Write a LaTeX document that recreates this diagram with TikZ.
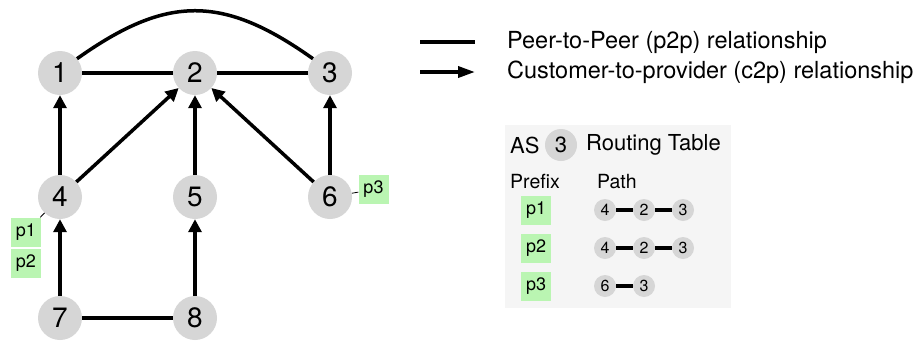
\documentclass[tikz,border=0pt]{standalone}
\usepackage{fontspec}
\setmainfont{TeX Gyre Heros}
\usetikzlibrary{arrows.meta}
\definecolor{asgray}{RGB}{214,214,214}
\definecolor{pfxgreen}{RGB}{186,245,178}
\definecolor{panelgray}{RGB}{245,245,245}
\newcommand{\fs}[1]{\fontsize{#1}{#1}\selectfont}
\tikzset{
  asnode/.style={circle, fill=asgray, minimum size=44pt, inner sep=0pt, font=\fs{28}},
  mini/.style={circle, fill=asgray, minimum size=22pt, inner sep=0pt, font=\fs{16}},
  pfx/.style={fill=pfxgreen, minimum width=30pt, minimum height=29pt, inner sep=0pt, font=\fs{18}},
  p2p/.style={line width=3.5pt},
  c2p/.style={line width=3.5pt, -{Triangle[length=13pt,width=13pt]}},
  tag/.style={line width=0.8pt},
  lbl/.style={anchor=west, inner sep=0pt},
}
\begin{document}
\begin{tikzpicture}[x=1pt, y=-1pt]
\useasboundingbox (0,0) rectangle (923,341);

% AS graph
\node[asnode] (n1) at (60,73) {1};
\node[asnode] (n2) at (195,73) {2};
\node[asnode] (n3) at (330,73) {3};
\node[asnode] (n4) at (60,197) {4};
\node[asnode] (n5) at (195,197) {5};
\node[asnode] (n6) at (330,197) {6};
\node[asnode] (n7) at (60,318) {7};
\node[asnode] (n8) at (195,318) {8};

% peering links
\draw[p2p] (n1) -- (n2);
\draw[p2p] (n2) -- (n3);
\draw[p2p] (n7) -- (n8);
\draw[p2p] (n1.40) .. controls +(90,-64) and +(-90,-64) .. (n3.140);

% customer-to-provider links
\draw[c2p] (n4) -- (n1);
\draw[c2p] (n4) -- (n2);
\draw[c2p] (n5) -- (n2);
\draw[c2p] (n6) -- (n2);
\draw[c2p] (n6) -- (n3);
\draw[c2p] (n7) -- (n4);
\draw[c2p] (n8) -- (n5);

% originated prefixes
\node[pfx] (g1) at (26,232) {p1};
\node[pfx] (g2) at (26,263.5) {p2};
\node[pfx] (g3) at (373.5,189.5) {p3};
\draw[tag] (n4) -- (g1);
\draw[tag] (n6) -- (g3);

% legend
\coordinate (la) at (420,42);
\coordinate (lb) at (475,42);
\coordinate (lc) at (420,72);
\coordinate (ld) at (475,72);
\draw[p2p] (la) -- (lb);
\draw[line width=3.5pt, -{Triangle[length=17pt,width=11pt]}] (lc) -- (ld);
\node[lbl, font=\fs{23.5}] (t1) at (507,42) {Peer-to-Peer (p2p) relationship};
\node[lbl, font=\fs{23.5}] (t2) at (507,72) {Customer-to-provider (c2p) relationship};

% routing table of AS 3
\fill[panelgray] (505,125) rectangle (731,308);
\node[lbl, font=\fs{22}] (as) at (510,145) {AS};
\node[circle, fill=asgray, minimum size=32pt, inner sep=0pt, font=\fs{22}] (as3) at (561,145) {3};
\node[lbl, font=\fs{22}] (rt) at (586,145) {Routing Table};
\node[lbl, font=\fs{19.5}] (hp) at (510,182) {Prefix};
\node[lbl, font=\fs{19.5}] (hq) at (597,182) {Path};

\node[pfx] (r1) at (536,210) {p1};
\node[pfx] (r2) at (536,248) {p2};
\node[pfx] (r3) at (536,286) {p3};

\node[mini] (a1) at (605,210) {4};
\node[mini] (b1) at (644,210) {2};
\node[mini] (c1) at (683,210) {3};
\draw[p2p] (a1) -- (b1);
\draw[p2p] (b1) -- (c1);

\node[mini] (a2) at (605,248) {4};
\node[mini] (b2) at (644,248) {2};
\node[mini] (c2) at (683,248) {3};
\draw[p2p] (a2) -- (b2);
\draw[p2p] (b2) -- (c2);

\node[mini] (a3) at (605,286) {6};
\node[mini] (b3) at (644,286) {3};
\draw[p2p] (a3) -- (b3);
\end{tikzpicture}
\end{document}
